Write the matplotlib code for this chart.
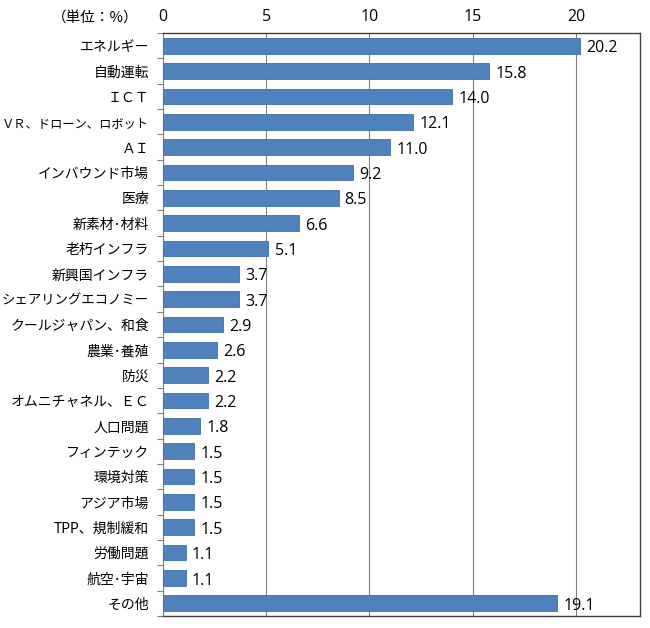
import matplotlib
matplotlib.use("Agg")
import matplotlib.pyplot as plt
import numpy as np

plt.rcParams['font.family'] = ['Noto Sans CJK JP', 'DejaVu Sans']

categories = ["エネルギー", "自動運転", "ＩＣＴ", "ＶＲ、ドローン、ロボット", "ＡＩ",
              "インバウンド市場", "医療", "新素材･材料", "老朽インフラ", "新興国インフラ",
              "シェアリングエコノミー", "クールジャパン、和食", "農業･養殖", "防災",
              "オムニチャネル、ＥＣ", "人口問題", "フィンテック", "環境対策", "アジア市場",
              "TPP、規制緩和", "労働問題", "航空･宇宙", "その他"]
values = [20.2, 15.8, 14.0, 12.1, 11.0, 9.2, 8.5, 6.6, 5.1, 3.7, 3.7, 2.9, 2.6, 2.2,
          2.2, 1.8, 1.5, 1.5, 1.5, 1.5, 1.1, 1.1, 19.1]
xticks = [0, 5, 10, 15, 20]

fig = plt.figure(figsize=(6.5, 6.28), dpi=100)
ax = fig.add_axes([163/650, 1-616/628, (640-163)/650, (616-33)/628])

n = len(categories)
y = np.arange(n)
ax.barh(y, values, height=0.62, color='#4F81BD', edgecolor='#3F6FA8', linewidth=0.6, zorder=3)
for yi, v in zip(y, values):
    ax.text(v + 0.3, yi + 0.1, f"{v:.1f}", va='center', ha='left', fontsize=11.5,
            family=['Open Sans', 'DejaVu Sans'], color='black')

ax.set_xlim(0, 23.1)
ax.set_ylim(n - 0.5, -0.5)
ax.xaxis.tick_top()
ax.set_xticks(xticks)
ax.set_xticklabels([str(t) for t in xticks], fontsize=11.5, family=['Open Sans', 'DejaVu Sans'])
ax.tick_params(axis='x', length=0, pad=6)
ax.grid(axis='x', color='#808080', linewidth=0.8, zorder=0)

ax.set_yticks(np.arange(n + 1) - 0.5)
ax.set_yticklabels([])
ax.tick_params(axis='y', which='major', length=4, direction='out', color='#808080')
ax.set_yticks(y, minor=True)
ax.set_yticklabels(categories, minor=True)
ax.tick_params(axis='y', which='minor', length=0, pad=10)
for lbl, txt in zip(ax.get_yticklabels(minor=True), categories):
    lbl.set_fontsize(min(10, 148 / (len(txt) * 1.39)))

for s in ['top', 'right', 'bottom']:
    ax.spines[s].set_color('#404040')
    ax.spines[s].set_linewidth(1.0)
ax.spines['left'].set_color('#808080')

fig.text(95/650, 1-18/628, "（単位：%）", ha='center', va='center', fontsize=10.5)

fig.savefig("out.png", dpi=100)
